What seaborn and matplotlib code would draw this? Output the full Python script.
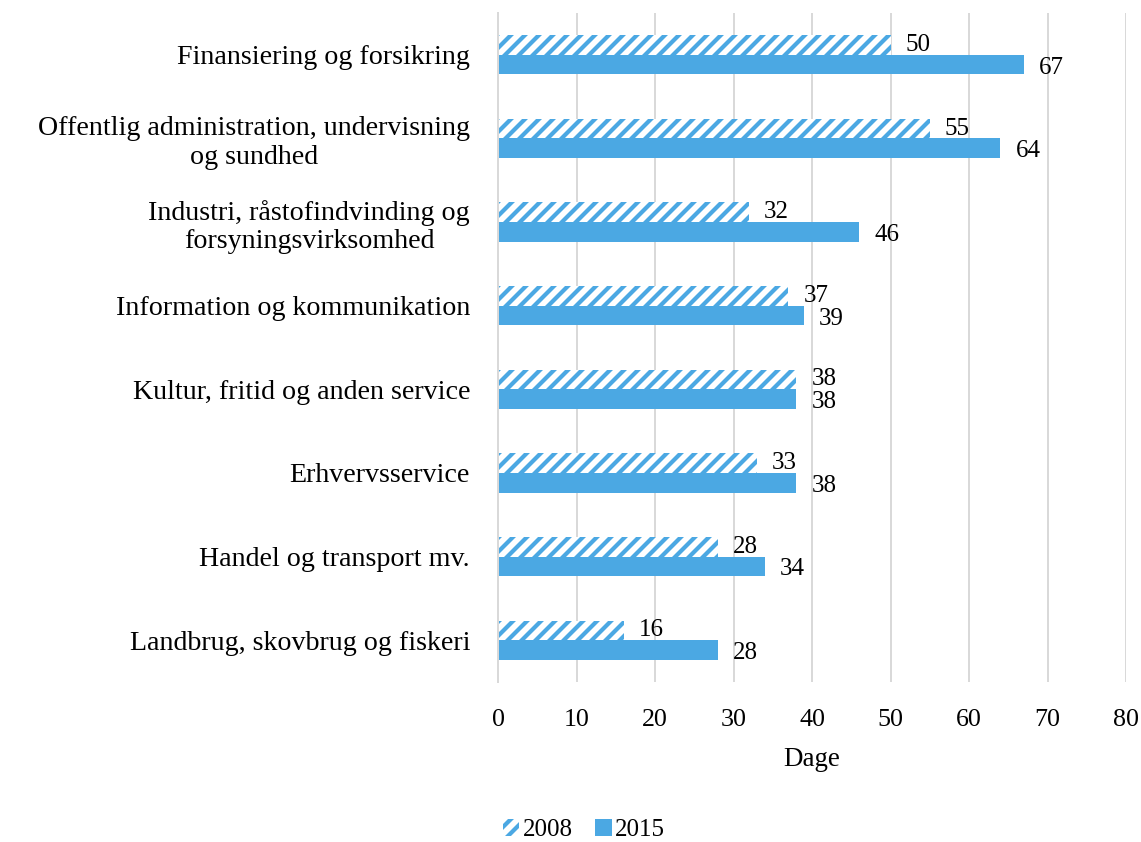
import matplotlib
matplotlib.use("Agg")
import matplotlib.pyplot as plt
from matplotlib.patches import Patch
import seaborn as sns
import pandas as pd

categories = [
    "Finansiering og forsikring",
    "Offentlig administration, undervisning\nog sundhed",
    "Industri, råstofindvinding og\nforsyningsvirksomhed",
    "Information og kommunikation",
    "Kultur, fritid og anden service",
    "Erhvervsservice",
    "Handel og transport mv.",
    "Landbrug, skovbrug og fiskeri",
]
values_2008 = [50, 55, 32, 37, 38, 33, 28, 16]
values_2015 = [67, 64, 46, 39, 38, 38, 34, 28]
years = ["2008", "2015"]
x_ticks = [0, 10, 20, 30, 40, 50, 60, 70, 80]

BLUE = "#4BA8E3"
GRID = "#D9D9D9"

# The figure is laid out in pixels; the render resolution also sets the
# spacing of the hatch stripes.
DPI = 84
W_PX, H_PX = 1141, 842


def pt(px):
    """Convert a size in pixels to points at the render resolution."""
    return px * 72.0 / DPI


df = pd.DataFrame({
    "Branche": categories * 2,
    "Dage": values_2008 + values_2015,
    "År": [years[0]] * len(categories) + [years[1]] * len(categories),
})

sns.set_style("white")
plt.rcParams["font.family"] = ["Liberation Serif", "DejaVu Serif"]
plt.rcParams["text.color"] = "black"
plt.rcParams["xtick.color"] = "black"
plt.rcParams["ytick.color"] = "black"
plt.rcParams["axes.labelcolor"] = "black"
plt.rcParams["hatch.linewidth"] = pt(4.2)
plt.rcParams["hatch.color"] = BLUE

fig = plt.figure(figsize=(W_PX / DPI, H_PX / DPI), dpi=DPI)
ax = fig.add_axes([498 / W_PX, 1 - 682 / H_PX, 628 / W_PX, 669 / H_PX])

sns.barplot(
    data=df, y="Branche", x="Dage", hue="År", orient="h",
    order=categories, hue_order=years,
    palette=[BLUE, BLUE], width=0.47, saturation=1,
    legend=False, ax=ax,
)

# Hatched style for the first year's bars
for bar in ax.containers[0]:
    bar.set_facecolor("white")
    bar.set_edgecolor(BLUE)
    bar.set_hatch("//")
    bar.set_linewidth(0)
for bar in ax.containers[1]:
    bar.set_edgecolor("none")

ax.bar_label(ax.containers[0], labels=[str(v) for v in values_2008],
             padding=pt(15), fontsize=pt(25))
labels_2015 = ax.bar_label(ax.containers[1], labels=[str(v) for v in values_2015],
                           padding=pt(15), fontsize=pt(25))
for t in labels_2015:
    t.xyann = (t.xyann[0], t.xyann[1] - pt(3))

ax.set_xlim(0, 80)
ax.set_xticks(x_ticks)
ax.set_xticklabels([str(t) for t in x_ticks], fontsize=pt(26))
ax.tick_params(axis="x", length=0, pad=pt(27))
ax.tick_params(axis="y", length=0, pad=pt(28))
for lbl in ax.get_yticklabels():
    lbl.set_fontsize(pt(28))
    lbl.set_multialignment("center")
    lbl.set_linespacing(1.2)

ax.set_xlabel("Dage", fontsize=pt(27), labelpad=pt(16))
ax.set_ylabel("")

ax.grid(axis="x", color=GRID, linewidth=pt(2))
ax.grid(axis="y", visible=False)
ax.set_axisbelow(True)
for side in ["top", "right", "bottom"]:
    ax.spines[side].set_visible(False)
ax.spines["left"].set_color(GRID)
ax.spines["left"].set_linewidth(pt(2))

handles = [
    Patch(facecolor="white", edgecolor=BLUE, hatch="//", linewidth=0, label="2008"),
    Patch(facecolor=BLUE, edgecolor="none", label="2015"),
]
fig.legend(handles=handles, loc="center",
           bbox_to_anchor=(584 / W_PX, 1 - 830 / H_PX),
           ncol=2, frameon=False, fontsize=pt(25), handlelength=0.65,
           handleheight=0.65, handletextpad=0.15, columnspacing=0.9)

fig.savefig("out.png", dpi=DPI, facecolor="white")
